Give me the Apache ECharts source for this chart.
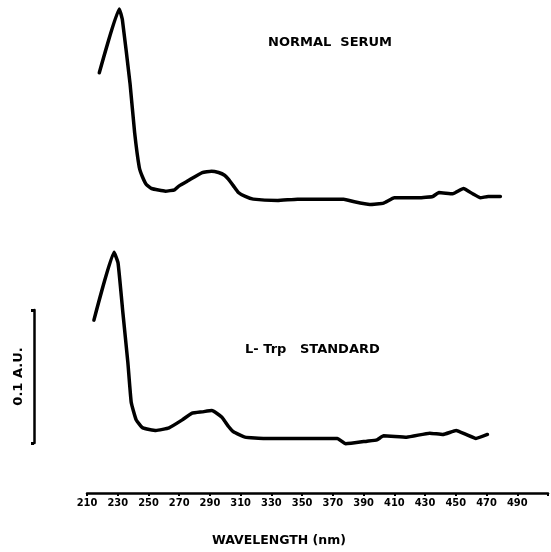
<!DOCTYPE html>
<html>
<head>
<meta charset="utf-8">
<script src="https://cdn.jsdelivr.net/npm/echarts@6/dist/echarts.min.js"></script>
<style>
html,body{margin:0;padding:0;background:#fff;}
#chart{width:551px;height:552px;}
</style>
</head>
<body>
<div id="chart"></div>
<script>
// ---- data ----
const xTicks = [210, 230, 250, 270, 290, 310, 330, 350, 370, 390, 410, 430, 450, 470, 490];

const serumWavelength = [218, 231, 233, 238, 241, 244, 246, 248.6, 252, 261, 267, 270, 276, 285, 291, 295.6, 299.5, 302, 305.3, 308.5, 313, 318.2, 334, 347, 377, 384, 394, 403, 410, 426, 435, 439, 448, 455, 461, 466, 471, 479];
const serumAbsorbance = [0.116, 0.164, 0.156, 0.108, 0.071, 0.045, 0.038, 0.032, 0.029, 0.027, 0.028, 0.031, 0.035, 0.041, 0.042, 0.041, 0.039, 0.036, 0.031, 0.026, 0.023, 0.021, 0.020, 0.021, 0.021, 0.019, 0.017, 0.018, 0.022, 0.022, 0.023, 0.026, 0.025, 0.029, 0.025, 0.022, 0.023, 0.023];
const serumOffset = 0.2; // vertical offset of the upper trace (AU)

const trpWavelength = [214.5, 227.6, 230.2, 233.4, 236.6, 238.8, 242, 246.3, 254.9, 263.4, 272, 278.4, 284.9, 291.3, 297.8, 302.1, 305.3, 312.8, 325.7, 347.2, 372.9, 378.3, 392.2, 398.7, 403, 418, 433, 441.6, 450.2, 456.6, 463.1, 470.6];
const trpAbsorbance = [0.130, 0.181, 0.173, 0.135, 0.098, 0.068, 0.055, 0.049, 0.047, 0.049, 0.055, 0.060, 0.061, 0.062, 0.057, 0.050, 0.046, 0.042, 0.041, 0.041, 0.041, 0.037, 0.039, 0.040, 0.043, 0.042, 0.045, 0.044, 0.047, 0.044, 0.041, 0.044];

const scaleBar = [0, 0.1]; // 0.1 A.U. scale bar

const serumData = serumWavelength.map((w, i) => [w, serumAbsorbance[i] + serumOffset]);
const trpData = trpWavelength.map((w, i) => [w, trpAbsorbance[i]]);

const chart = echarts.init(document.getElementById('chart'), null, {renderer: 'canvas'});
const boldFont = 'DejaVu Sans';

chart.setOption({
  animation: false,
  backgroundColor: '#ffffff',
  title: [
    {text: 'NORMAL  SERUM', left: 268, top: 36, padding: 0,
     textStyle: {fontFamily: boldFont, fontWeight: 'bold', fontSize: 13, color: '#000'}},
    {text: 'L- Trp   STANDARD', left: 245, top: 343, padding: 0,
     textStyle: {fontFamily: boldFont, fontWeight: 'bold', fontSize: 13, color: '#000'}},
    {text: 'WAVELENGTH (nm)', left: 212, top: 534, padding: 0,
     textStyle: {fontFamily: boldFont, fontWeight: 'bold', fontSize: 12.5, color: '#000'}}
  ],
  grid: [
    {left: 87, top: 1, width: 466, height: 492},
    {left: 34, top: 310, width: 10, height: 133}
  ],
  xAxis: [
    {gridIndex: 0, type: 'value', min: 210, max: 510, interval: 20,
     axisLine: {show: true, lineStyle: {color: '#000', width: 2.5}},
     axisTick: {show: true, length: 3, lineStyle: {color: '#000', width: 2}},
     axisLabel: {show: true, margin: 5, color: '#000', fontFamily: 'DejaVu Sans Condensed', fontWeight: 'bold', fontSize: 11,
       formatter: v => (xTicks.indexOf(v) >= 0 ? String(v) : '')},
     splitLine: {show: false}},
    {gridIndex: 1, type: 'value', show: false}
  ],
  yAxis: [
    {gridIndex: 0, type: 'value', min: 0, max: 0.37, show: false},
    {gridIndex: 1, type: 'value', min: scaleBar[0], max: scaleBar[1], interval: 0.1,
     position: 'left',
     name: '0.1 A.U.', nameLocation: 'middle', nameRotate: 90, nameGap: 9,
     nameTextStyle: {fontFamily: boldFont, fontWeight: 'bold', fontSize: 13, color: '#000'},
     axisLine: {show: true, lineStyle: {color: '#000', width: 2.5}},
     axisTick: {show: true, length: 3, inside: false, lineStyle: {color: '#000', width: 3}},
     axisLabel: {show: false},
     splitLine: {show: false}}
  ],
  series: [
    {name: 'NORMAL SERUM', type: 'line', xAxisIndex: 0, yAxisIndex: 0, data: serumData,
     showSymbol: false, smooth: 0.12, lineStyle: {color: '#000', width: 3.5, join: 'round', cap: 'round'}},
    {name: 'L-Trp STANDARD', type: 'line', xAxisIndex: 0, yAxisIndex: 0, data: trpData,
     showSymbol: false, smooth: 0.12, lineStyle: {color: '#000', width: 3.5, join: 'round', cap: 'round'}}
  ]
});
</script>
</body>
</html>
